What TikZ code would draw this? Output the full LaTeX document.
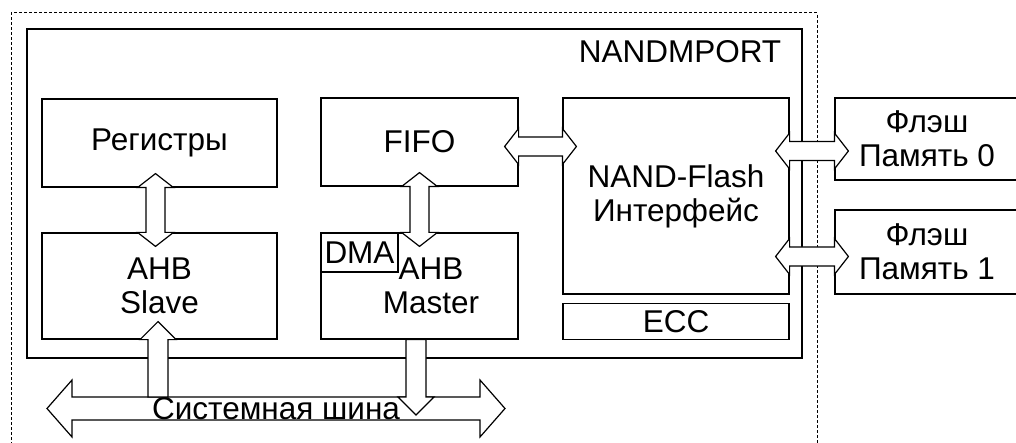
\documentclass[tikz,border=0pt]{standalone}
\usepackage{fontspec}
\setmainfont{Liberation Sans}
\usetikzlibrary{calc,positioning}
\tikzset{
  blk/.style={draw,line width=1.2pt,inner sep=0pt,align=center,font=\fontsize{31.5}{34}\selectfont},
  txt/.style={inner sep=0pt,align=center,font=\fontsize{31.5}{34}\selectfont},
  blkarrow/.style={draw,fill=white,line width=1.2pt,line join=miter},
  frame/.style={draw,line width=1pt,dash pattern=on 3pt off 2pt}
}
\newcommand{\arrlen}{14pt}
\newcommand{\arrhead}{18pt}
\newcommand{\arrshaft}{9.5pt}
% two-headed block arrows, the points are the bases of the heads
\newcommand{\vdarrow}[2]{%
  \draw[blkarrow] let \p1=#1, \p2=#2 in
    (\x1,{\y1+\arrlen}) -- ({\x1+\arrhead},\y1) -- ({\x1+\arrshaft},\y1) -- ({\x1+\arrshaft},\y2)
    -- ({\x1+\arrhead},\y2) -- (\x1,{\y2-\arrlen}) -- ({\x1-\arrhead},\y2) -- ({\x1-\arrshaft},\y2)
    -- ({\x1-\arrshaft},\y1) -- ({\x1-\arrhead},\y1) -- cycle;}
\newcommand{\hdarrow}[2]{%
  \draw[blkarrow] let \p1=#1, \p2=#2 in
    ({\x1-\arrlen},\y1) -- (\x1,{\y1+\arrhead}) -- (\x1,{\y1+\arrshaft}) -- (\x2,{\y1+\arrshaft})
    -- (\x2,{\y1+\arrhead}) -- ({\x2+\arrlen},\y1) -- (\x2,{\y1-\arrhead}) -- (\x2,{\y1-\arrshaft})
    -- (\x1,{\y1-\arrshaft}) -- (\x1,{\y1-\arrhead}) -- cycle;}
% one-headed block arrows: #1 tail, #2 base of the head
\newcommand{\uparr}[2]{%
  \draw[blkarrow] let \p1=#1, \p2=#2 in
    (\x2,{\y2+\arrlen}) -- ({\x2+\arrhead},\y2) -- ({\x2+\arrshaft},\y2) -- ({\x2+\arrshaft},\y1)
    -- ({\x2-\arrshaft},\y1) -- ({\x2-\arrshaft},\y2) -- ({\x2-\arrhead},\y2) -- cycle;}
\newcommand{\downarr}[2]{%
  \draw[blkarrow] let \p1=#1, \p2=#2 in
    (\x2,{\y2-\arrlen}) -- ({\x2+\arrhead},\y2) -- ({\x2+\arrshaft},\y2) -- ({\x2+\arrshaft},\y1)
    -- ({\x2-\arrshaft},\y1) -- ({\x2-\arrshaft},\y2) -- ({\x2-\arrhead},\y2) -- cycle;}

\begin{document}
\begin{tikzpicture}[x=1pt,y=-1pt]
  \useasboundingbox (0,0) rectangle (1016,443);
  \clip (0,0) rectangle (1016,443);
  \draw[frame] (11,450) |- (817,13) -- (817,450);

  \node[blk,minimum width=775pt,minimum height=329pt] (port) at (414.5,193.5) {};
  \node[txt] (portname) at (680,52) {NANDMPORT};
  \node[blk,minimum width=235pt,minimum height=88pt] (regs) at (159.5,143) {Регистры};
  \node[blk,minimum width=197pt,minimum height=88pt] (fifo) at (419.5,142) {FIFO};
  \node[blk,minimum width=235pt,minimum height=106pt] (slave) at (159.5,286) {AHB\\Slave};
  \node[blk,minimum width=197pt,minimum height=106pt] (master) at (419.5,286) {};
  \node[txt] (mastername) at (431,286) {AHB\\Master};
  \node[blk,minimum width=77pt,minimum height=39pt,anchor=north west] (dma) at (master.north west) {DMA};
  \node[blk,minimum width=226pt,minimum height=196pt] (nand) at (676,196) {NAND-Flash\\Интерфейс};
  \node[blk,minimum width=226pt,minimum height=36pt,below=8pt of nand] (ecc) {ECC};
  \node[blk,minimum width=184pt,minimum height=82pt] (flash0) at (927,139) {Флэш\\Память 0};
  \node[blk,minimum width=184pt,minimum height=84pt] (flash1) at (927,252) {Флэш\\Память 1};

  \coordinate (busL) at (72,408.5);
  \coordinate (busR) at (480,408.5);
  \coordinate (busT) at (0,397);

  \vdarrow{([xshift=-4pt]regs.south)}{([xshift=-4pt]slave.north)}
  \vdarrow{(fifo.south)}{(master.north)}
  \hdarrow{($(fifo.east)+(0,4.5)$)}{(nand.west)}
  \hdarrow{($(nand.east |- flash0.west)+(0,12)$)}{(flash0.west)}
  \hdarrow{($(nand.east |- flash1.west)+(0,4.5)$)}{(flash1.west)}
  \begingroup
    \renewcommand{\arrlen}{25pt}\renewcommand{\arrhead}{28.5pt}\renewcommand{\arrshaft}{11.5pt}
    \hdarrow{(busL)}{(busR)}
  \endgroup
  \begingroup
    \renewcommand{\arrlen}{18pt}\renewcommand{\arrhead}{18pt}\renewcommand{\arrshaft}{10pt}
    \uparr{($(slave.south |- busT)+(-1.5,0)$)}{($(slave.south)+(-1.5,0)$)}
    \downarr{($(master.south)+(-3.5,0)$)}{($(master.south |- busT)+(-3.5,0)$)}
  \endgroup
  \node[txt] (bus) at ($(busL)!0.5!(busR)$) {Системная шина};
\end{tikzpicture}
\end{document}
